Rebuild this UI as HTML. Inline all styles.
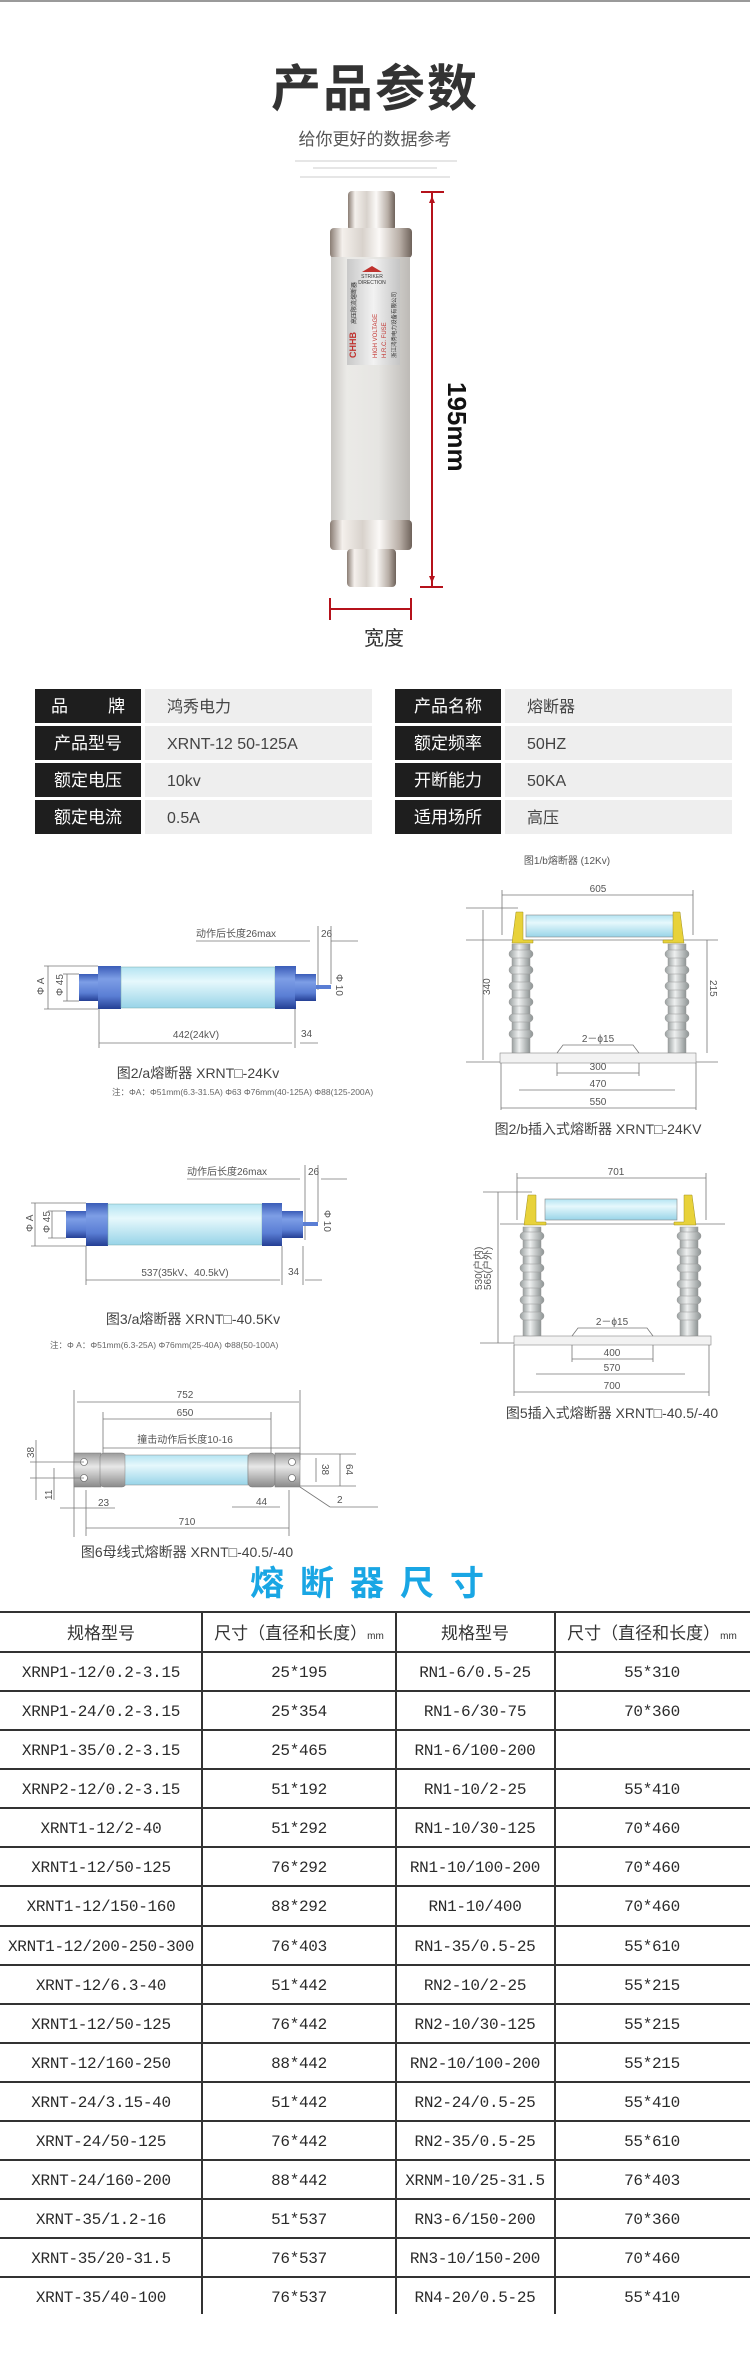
<!DOCTYPE html>
<html><head><meta charset="utf-8"><style>
html,body{margin:0;padding:0;background:#fff}
svg{display:block}
text{font-family:"Liberation Sans","Noto Sans CJK SC",sans-serif}
.m,.m text{font-family:"Liberation Mono","Noto Sans CJK SC",monospace;font-size:16px;fill:#2a2a2a;letter-spacing:-0.3px}
.d{font-size:10px;fill:#555}
.c{font-size:14px;fill:#444}
.ln{stroke:#777;stroke-width:0.8;fill:none}
</style></head><body>
<svg width="750" height="2370" viewBox="0 0 750 2370" xmlns="http://www.w3.org/2000/svg">
<defs>
<linearGradient id="met" x1="0" x2="1" y1="0" y2="0">
<stop offset="0" stop-color="#8a7d74"/><stop offset="0.15" stop-color="#f4f0ec"/><stop offset="0.4" stop-color="#d8d2cc"/><stop offset="0.6" stop-color="#fbf9f7"/><stop offset="0.85" stop-color="#b8aea6"/><stop offset="1" stop-color="#6e625a"/></linearGradient>
<linearGradient id="bod" x1="0" x2="1" y1="0" y2="0">
<stop offset="0" stop-color="#c9c7c3"/><stop offset="0.2" stop-color="#ebeae7"/><stop offset="0.6" stop-color="#e6e5e2"/><stop offset="1" stop-color="#bdbab6"/></linearGradient>
<linearGradient id="lab" x1="0" x2="1"><stop offset="0" stop-color="#c8c8c8"/><stop offset="0.5" stop-color="#f2f2f2"/><stop offset="1" stop-color="#c4c4c4"/></linearGradient>
<linearGradient id="blu" x1="0" x2="0" y1="0" y2="1"><stop offset="0" stop-color="#3a5cb8"/><stop offset="0.3" stop-color="#7d9ee6"/><stop offset="0.7" stop-color="#5a7ed4"/><stop offset="1" stop-color="#243f94"/></linearGradient>
<linearGradient id="tub" x1="0" x2="0" y1="0" y2="1"><stop offset="0" stop-color="#b4e4f2"/><stop offset="0.35" stop-color="#e6f8fc"/><stop offset="1" stop-color="#98d4e8"/></linearGradient>
<linearGradient id="gry" x1="0" x2="0" y1="0" y2="1"><stop offset="0" stop-color="#9a9a9a"/><stop offset="0.4" stop-color="#e8e8e8"/><stop offset="1" stop-color="#8a8a8a"/></linearGradient>
<linearGradient id="ins" x1="0" x2="1"><stop offset="0" stop-color="#9aa0a0"/><stop offset="0.4" stop-color="#eef0f0"/><stop offset="1" stop-color="#8e9494"/></linearGradient>
</defs>
<rect x="0" y="0" width="750" height="2" fill="#9a9a9a"/>
<text x="375" y="106" text-anchor="middle" font-size="50" font-weight="bold" fill="#333" letter-spacing="2">产品参数</text>
<text x="375" y="145" text-anchor="middle" font-size="17" fill="#555">给你更好的数据参考</text>
<g stroke="#ddd" stroke-width="1.5"><line x1="295" y1="161" x2="457" y2="161"/><line x1="313" y1="168" x2="437" y2="168"/><line x1="300" y1="177" x2="450" y2="177"/></g>
<rect x="348" y="191" width="47" height="40" rx="4" fill="url(#met)"/>
<rect x="330" y="228" width="82" height="30" rx="4" fill="url(#met)"/>
<rect x="331" y="257" width="79" height="266" fill="url(#bod)"/>
<rect x="330" y="520" width="82" height="30" rx="4" fill="url(#met)"/>
<rect x="347" y="549" width="49" height="38" rx="4" fill="url(#met)"/>
<rect x="347" y="259" width="53" height="106" fill="url(#lab)"/>
<polygon points="362,272 372,266 382,272" fill="#c0322e"/>
<text x="372" y="278" text-anchor="middle" font-size="5" fill="#333">STRIKER</text>
<text x="372" y="284" text-anchor="middle" font-size="5" fill="#333">DIRECTION</text>
<g transform="translate(356,358) rotate(-90)"><text font-size="9" font-weight="bold" fill="#c0322e">CHHB</text><text x="34" font-size="6" fill="#333">高压限流熔断器</text></g>
<g transform="translate(377,358) rotate(-90)"><text font-size="6" fill="#c0322e">HIGH VOLTAGE</text></g>
<g transform="translate(386,358) rotate(-90)"><text font-size="6" fill="#c0322e">H.R.C. FUSE</text></g>
<g transform="translate(396,358) rotate(-90)"><text font-size="5.5" fill="#333">浙江鸿秀电力设备有限公司</text></g>
<g stroke="#b5121b" stroke-width="2"><line x1="432" y1="192" x2="432" y2="586"/><line x1="421" y1="192" x2="444" y2="192"/><line x1="420" y1="587" x2="443" y2="587"/>
<line x1="330" y1="609" x2="410" y2="609"/><line x1="330" y1="598" x2="330" y2="620"/><line x1="411" y1="598" x2="411" y2="620"/></g>
<polygon points="432,196 429,203 435,203" fill="#b5121b"/><polygon points="432,583 429,576 435,576" fill="#b5121b"/>
<text transform="translate(448,382) rotate(90)" font-size="26" font-weight="bold" fill="#111">195mm</text>
<text x="384" y="645" text-anchor="middle" font-size="20" fill="#333">宽度</text>
<g font-size="17">
<g fill="#1e1e1e"><rect x="35" y="689" width="106" height="34"/><rect x="35" y="726" width="106" height="34"/><rect x="35" y="763" width="106" height="34"/><rect x="35" y="800" width="106" height="34"/>
<rect x="395" y="689" width="106" height="34"/><rect x="395" y="726" width="106" height="34"/><rect x="395" y="763" width="106" height="34"/><rect x="395" y="800" width="106" height="34"/></g>
<g fill="#eeeeee"><rect x="145" y="689" width="227" height="34"/><rect x="145" y="726" width="227" height="34"/><rect x="145" y="763" width="227" height="34"/><rect x="145" y="800" width="227" height="34"/>
<rect x="505" y="689" width="227" height="34"/><rect x="505" y="726" width="227" height="34"/><rect x="505" y="763" width="227" height="34"/><rect x="505" y="800" width="227" height="34"/></g>
<g fill="#fff"><text x="51" y="712">品</text><text x="108" y="712">牌</text><text x="88" y="749" text-anchor="middle">产品型号</text><text x="88" y="786" text-anchor="middle">额定电压</text><text x="88" y="823" text-anchor="middle">额定电流</text>
<text x="448" y="712" text-anchor="middle">产品名称</text><text x="448" y="749" text-anchor="middle">额定频率</text><text x="448" y="786" text-anchor="middle">开断能力</text><text x="448" y="823" text-anchor="middle">适用场所</text></g>
<g fill="#444" font-size="16"><text x="167" y="712">鸿秀电力</text><text x="167" y="749">XRNT-12 50-125A</text><text x="167" y="786">10kv</text><text x="167" y="823">0.5A</text>
<text x="527" y="712">熔断器</text><text x="527" y="749">50HZ</text><text x="527" y="786">50KA</text><text x="527" y="823">高压</text></g>
</g>
<g>
<text x="196" y="937" class="d">动作后长度26max</text><line x1="196" y1="941" x2="310" y2="941" class="ln"/><line x1="318" y1="926" x2="318" y2="990" class="ln"/><line x1="331" y1="926" x2="331" y2="984" class="ln"/><line x1="331" y1="941" x2="358" y2="941" class="ln"/><text x="321" y="937" class="d">26</text>
<rect x="79" y="974" width="20" height="27" fill="url(#blu)"/>
<rect x="98" y="966" width="23" height="43" fill="url(#blu)"/>
<rect x="121" y="967" width="154" height="41" fill="url(#tub)" stroke="#7aa" stroke-width="0.5"/>
<rect x="275" y="966" width="21" height="43" fill="url(#blu)"/>
<rect x="295" y="974" width="21" height="27" fill="url(#blu)"/>
<rect x="316" y="985" width="15" height="4" fill="#5a7ed4"/>
<line x1="48" y1="966" x2="48" y2="1009" class="ln"/><line x1="44" y1="966" x2="98" y2="966" class="ln"/><line x1="44" y1="1009" x2="98" y2="1009" class="ln"/>
<line x1="67" y1="974" x2="67" y2="1001" class="ln"/><line x1="63" y1="974" x2="79" y2="974" class="ln"/><line x1="63" y1="1001" x2="79" y2="1001" class="ln"/>
<text transform="translate(44,995) rotate(-90)" class="d">Φ A</text><text transform="translate(63,996) rotate(-90)" class="d">Φ 45</text><text transform="translate(336,974) rotate(90)" class="d">Φ 10</text>
<line x1="99" y1="1009" x2="99" y2="1048" class="ln"/><line x1="295" y1="1009" x2="295" y2="1048" class="ln"/><line x1="99" y1="1043" x2="292" y2="1043" class="ln"/><line x1="300" y1="1043" x2="318" y2="1043" class="ln"/>
<text x="196" y="1038" class="d" text-anchor="middle">442(24kV)</text><text x="301" y="1037" class="d">34</text>
<text x="198" y="1078" class="c" text-anchor="middle">图2/a熔断器 XRNT□-24Kv</text>
<text x="112" y="1095" font-size="8.5" fill="#666">注：ΦA：Φ51mm(6.3-31.5A)  Φ63  Φ76mm(40-125A)  Φ88(125-200A)</text>
</g>
<g>
<text x="567" y="864" font-size="10" fill="#555" text-anchor="middle">图1/b熔断器 (12Kv)</text>
<line x1="502" y1="895" x2="693" y2="895" class="ln"/><line x1="502" y1="890" x2="502" y2="935" class="ln"/><line x1="693" y1="890" x2="693" y2="935" class="ln"/><text x="598" y="892" class="d" text-anchor="middle">605</text>
<line x1="466" y1="908" x2="518" y2="908" class="ln"/><line x1="483" y1="910" x2="483" y2="1060" class="ln"/><text transform="translate(490,995) rotate(-90)" class="d">340</text>
<line x1="466" y1="940" x2="718" y2="940" class="ln"/><line x1="466" y1="1062" x2="718" y2="1062" class="ln"/>
<line x1="707" y1="940" x2="707" y2="1053" class="ln"/><text transform="translate(710,980) rotate(90)" class="d">215</text>
<rect x="526" y="915" width="149" height="22" fill="url(#tub)" stroke="#888" stroke-width="0.6"/>
<path d="M516,912 h7 v28 h10 v3 h-21 z M680,912 h-7 v28 h-10 v3 h21 z" fill="#e8d23a" stroke="#a09020" stroke-width="0.5"/>
<g fill="url(#ins)" stroke="#999" stroke-width="0.5">
<rect x="512" y="944" width="18" height="110"/><rect x="668" y="944" width="18" height="110"/></g>
<g fill="url(#ins)" stroke="#999" stroke-width="0.5">
<rect x="509" y="950" width="24" height="8" rx="4"/><rect x="509" y="966" width="24" height="8" rx="4"/><rect x="509" y="982" width="24" height="8" rx="4"/><rect x="509" y="998" width="24" height="8" rx="4"/><rect x="509" y="1014" width="24" height="8" rx="4"/><rect x="509" y="1030" width="24" height="8" rx="4"/>
<rect x="665" y="950" width="24" height="8" rx="4"/><rect x="665" y="966" width="24" height="8" rx="4"/><rect x="665" y="982" width="24" height="8" rx="4"/><rect x="665" y="998" width="24" height="8" rx="4"/><rect x="665" y="1014" width="24" height="8" rx="4"/><rect x="665" y="1030" width="24" height="8" rx="4"/></g>
<rect x="500" y="1053" width="196" height="10" fill="#f2f2f2" stroke="#888" stroke-width="0.6"/>
<path d="M557,1053 L563,1045 H633 L639,1053" class="ln"/><text x="598" y="1042" class="d" text-anchor="middle">2－ϕ15</text>
<line x1="557" y1="1063" x2="557" y2="1076" class="ln"/><line x1="639" y1="1063" x2="639" y2="1076" class="ln"/><line x1="557" y1="1073" x2="639" y2="1073" class="ln"/><text x="598" y="1070" class="d" text-anchor="middle">300</text>
<line x1="519" y1="1090" x2="675" y2="1090" class="ln"/><text x="598" y="1087" class="d" text-anchor="middle">470</text>
<line x1="501" y1="1063" x2="501" y2="1110" class="ln"/><line x1="696" y1="1063" x2="696" y2="1110" class="ln"/><line x1="501" y1="1108" x2="696" y2="1108" class="ln"/><text x="598" y="1105" class="d" text-anchor="middle">550</text>
<text x="598" y="1134" class="c" font-size="13" text-anchor="middle">图2/b插入式熔断器 XRNT□-24KV</text>
</g>
<g>
<text x="187" y="1175" class="d">动作后长度26max</text><line x1="187" y1="1179" x2="300" y2="1179" class="ln"/><line x1="305" y1="1165" x2="305" y2="1240" class="ln"/><line x1="318" y1="1165" x2="318" y2="1222" class="ln"/><line x1="321" y1="1179" x2="347" y2="1179" class="ln"/><text x="308" y="1175" class="d">26</text>
<rect x="66" y="1211" width="21" height="27" fill="url(#blu)"/>
<rect x="86" y="1203" width="22" height="43" fill="url(#blu)"/>
<rect x="108" y="1204" width="154" height="41" fill="url(#tub)" stroke="#7aa" stroke-width="0.5"/>
<rect x="262" y="1203" width="20" height="43" fill="url(#blu)"/>
<rect x="282" y="1211" width="21" height="27" fill="url(#blu)"/>
<rect x="303" y="1222" width="15" height="4" fill="#5a7ed4"/>
<line x1="35" y1="1203" x2="35" y2="1246" class="ln"/><line x1="31" y1="1203" x2="86" y2="1203" class="ln"/><line x1="31" y1="1246" x2="86" y2="1246" class="ln"/>
<line x1="52" y1="1211" x2="52" y2="1238" class="ln"/><line x1="48" y1="1211" x2="66" y2="1211" class="ln"/><line x1="48" y1="1238" x2="66" y2="1238" class="ln"/>
<text transform="translate(33,1232) rotate(-90)" class="d">Φ A</text><text transform="translate(50,1233) rotate(-90)" class="d">Φ 45</text><text transform="translate(324,1210) rotate(90)" class="d">Φ 10</text>
<line x1="86" y1="1246" x2="86" y2="1285" class="ln"/><line x1="282" y1="1246" x2="282" y2="1285" class="ln"/><line x1="303" y1="1246" x2="303" y2="1285" class="ln"/><line x1="86" y1="1280" x2="280" y2="1280" class="ln"/><line x1="305" y1="1280" x2="322" y2="1280" class="ln"/>
<text x="185" y="1276" class="d" text-anchor="middle">537(35kV、40.5kV)</text><text x="288" y="1275" class="d">34</text>
<text x="193" y="1324" class="c" text-anchor="middle">图3/a熔断器 XRNT□-40.5Kv</text>
<text x="50" y="1348" font-size="8.5" fill="#666">注：Φ A：Φ51mm(6.3-25A)  Φ76mm(25-40A)  Φ88(50-100A)</text>
</g>
<g>
<line x1="517" y1="1178" x2="706" y2="1178" class="ln"/><line x1="517" y1="1173" x2="517" y2="1220" class="ln"/><line x1="706" y1="1173" x2="706" y2="1220" class="ln"/><text x="616" y="1175" class="d" text-anchor="middle">701</text>
<line x1="483" y1="1192" x2="532" y2="1192" class="ln"/><line x1="498" y1="1192" x2="498" y2="1343" class="ln"/>
<text transform="translate(482,1290) rotate(-90)" class="d" font-size="8.5">530(户内)</text><text transform="translate(491,1290) rotate(-90)" class="d" font-size="8.5">565(户外)</text>
<line x1="500" y1="1224" x2="725" y2="1224" class="ln"/><line x1="480" y1="1343" x2="711" y2="1343" class="ln"/>
<rect x="545" y="1199" width="132" height="21" fill="url(#tub)" stroke="#888" stroke-width="0.6"/>
<path d="M528,1195 h8 v27 h10 v3 h-22 z M692,1195 h-8 v27 h-10 v3 h22 z" fill="#e8d23a" stroke="#a09020" stroke-width="0.5"/>
<g fill="url(#ins)" stroke="#999" stroke-width="0.5"><rect x="523" y="1227" width="18" height="110"/><rect x="680" y="1227" width="18" height="110"/></g>
<g fill="url(#ins)" stroke="#999" stroke-width="0.5">
<rect x="520" y="1232" width="24" height="8" rx="4"/><rect x="520" y="1248" width="24" height="8" rx="4"/><rect x="520" y="1264" width="24" height="8" rx="4"/><rect x="520" y="1280" width="24" height="8" rx="4"/><rect x="520" y="1296" width="24" height="8" rx="4"/><rect x="520" y="1312" width="24" height="8" rx="4"/>
<rect x="677" y="1232" width="24" height="8" rx="4"/><rect x="677" y="1248" width="24" height="8" rx="4"/><rect x="677" y="1264" width="24" height="8" rx="4"/><rect x="677" y="1280" width="24" height="8" rx="4"/><rect x="677" y="1296" width="24" height="8" rx="4"/><rect x="677" y="1312" width="24" height="8" rx="4"/></g>
<rect x="514" y="1336" width="197" height="9" fill="#f2f2f2" stroke="#888" stroke-width="0.6"/>
<path d="M572,1336 L578,1328 H647 L653,1336" class="ln"/><text x="612" y="1325" class="d" text-anchor="middle">2－ϕ15</text>
<line x1="572" y1="1345" x2="572" y2="1362" class="ln"/><line x1="653" y1="1345" x2="653" y2="1362" class="ln"/><line x1="572" y1="1359" x2="653" y2="1359" class="ln"/><text x="612" y="1356" class="d" text-anchor="middle">400</text>
<line x1="536" y1="1374" x2="685" y2="1374" class="ln"/><text x="612" y="1371" class="d" text-anchor="middle">570</text>
<line x1="514" y1="1345" x2="514" y2="1396" class="ln"/><line x1="709" y1="1345" x2="709" y2="1396" class="ln"/><line x1="514" y1="1392" x2="709" y2="1392" class="ln"/><text x="612" y="1389" class="d" text-anchor="middle">700</text>
<text x="612" y="1418" class="c" font-size="13" text-anchor="middle">图5插入式熔断器 XRNT□-40.5/-40</text>
</g>
<g>
<line x1="74" y1="1390" x2="74" y2="1537" class="ln"/><line x1="300" y1="1390" x2="300" y2="1460" class="ln"/>
<line x1="77" y1="1402" x2="299" y2="1402" class="ln"/><text x="185" y="1398" class="d" text-anchor="middle">752</text>
<line x1="103" y1="1419" x2="271" y2="1419" class="ln"/><line x1="103" y1="1412" x2="103" y2="1453" class="ln"/><line x1="271" y1="1412" x2="271" y2="1453" class="ln"/><text x="185" y="1416" class="d" text-anchor="middle">650</text>
<text x="185" y="1443" class="d" text-anchor="middle">撞击动作后长度10-16</text><line x1="103" y1="1448" x2="300" y2="1448" class="ln"/>
<rect x="74" y="1453" width="27" height="34" fill="url(#gry)" stroke="#777" stroke-width="0.5"/>
<rect x="100" y="1453" width="26" height="34" rx="4" fill="url(#gry)" stroke="#777" stroke-width="0.5"/>
<rect x="125" y="1455" width="123" height="30" fill="url(#tub)" stroke="#888" stroke-width="0.5"/>
<rect x="248" y="1453" width="27" height="34" rx="4" fill="url(#gry)" stroke="#777" stroke-width="0.5"/>
<rect x="275" y="1453" width="25" height="34" fill="url(#gry)" stroke="#777" stroke-width="0.5"/>
<g fill="#fff" stroke="#555" stroke-width="0.6"><circle cx="84" cy="1462" r="3.5"/><circle cx="84" cy="1478" r="3.5"/><circle cx="292" cy="1462" r="3.5"/><circle cx="292" cy="1478" r="3.5"/></g>
<line x1="300" y1="1454" x2="356" y2="1454" class="ln"/><line x1="300" y1="1486" x2="356" y2="1486" class="ln"/><line x1="316" y1="1458" x2="316" y2="1482" class="ln"/><line x1="340" y1="1454" x2="340" y2="1486" class="ln"/>
<text transform="translate(322,1464) rotate(90)" class="d">38</text><text transform="translate(346,1464) rotate(90)" class="d">64</text>
<line x1="300" y1="1487" x2="330" y2="1507" class="ln"/><line x1="330" y1="1507" x2="378" y2="1507" class="ln"/><text x="337" y="1503" class="d">2</text>
<line x1="30" y1="1462" x2="84" y2="1462" class="ln"/><line x1="30" y1="1478" x2="84" y2="1478" class="ln"/><line x1="36" y1="1440" x2="36" y2="1500" class="ln"/><line x1="54" y1="1468" x2="54" y2="1500" class="ln"/>
<text transform="translate(34,1458) rotate(-90)" class="d">38</text><text transform="translate(52,1500) rotate(-90)" class="d">11</text>
<line x1="60" y1="1508" x2="115" y2="1508" class="ln"/><text x="98" y="1506" class="d">23</text>
<line x1="232" y1="1507" x2="280" y2="1507" class="ln"/><text x="256" y="1505" class="d">44</text>
<line x1="86" y1="1490" x2="86" y2="1536" class="ln"/><line x1="289" y1="1490" x2="289" y2="1536" class="ln"/><line x1="86" y1="1528" x2="289" y2="1528" class="ln"/><text x="187" y="1525" class="d" text-anchor="middle">710</text>
<text x="187" y="1557" class="c" text-anchor="middle">图6母线式熔断器 XRNT□-40.5/-40</text>
</g>
<text x="375" y="1595" text-anchor="middle" font-size="34" font-weight="bold" fill="#19a6e4" letter-spacing="16">熔断器尺寸</text>
<g stroke="#333" stroke-width="2">
<line x1="0" y1="1612" x2="750" y2="1612"/>
<line x1="0" y1="1652" x2="750" y2="1652"/><line x1="0" y1="1691" x2="750" y2="1691"/><line x1="0" y1="1730" x2="750" y2="1730"/><line x1="0" y1="1769" x2="750" y2="1769"/><line x1="0" y1="1808" x2="750" y2="1808"/><line x1="0" y1="1847" x2="750" y2="1847"/><line x1="0" y1="1886" x2="750" y2="1886"/><line x1="0" y1="1926" x2="750" y2="1926"/><line x1="0" y1="1965" x2="750" y2="1965"/><line x1="0" y1="2004" x2="750" y2="2004"/><line x1="0" y1="2043" x2="750" y2="2043"/><line x1="0" y1="2082" x2="750" y2="2082"/><line x1="0" y1="2121" x2="750" y2="2121"/><line x1="0" y1="2160" x2="750" y2="2160"/><line x1="0" y1="2199" x2="750" y2="2199"/><line x1="0" y1="2238" x2="750" y2="2238"/><line x1="0" y1="2277" x2="750" y2="2277"/>
<line x1="202" y1="1612" x2="202" y2="2314"/><line x1="396" y1="1612" x2="396" y2="2314"/><line x1="555" y1="1612" x2="555" y2="2314"/>
</g>
<g font-size="17" fill="#333"><text x="101" y="1639" text-anchor="middle">规格型号</text><text x="299" y="1639" text-anchor="middle">尺寸（直径和长度）<tspan font-size="10">mm</tspan></text><text x="475" y="1639" text-anchor="middle">规格型号</text><text x="652" y="1639" text-anchor="middle">尺寸（直径和长度）<tspan font-size="10">mm</tspan></text></g>
<g class="m" text-anchor="middle">
<text x="101" y="1677">XRNP1-12/0.2-3.15</text><text x="299" y="1677">25*195</text><text x="475" y="1677">RN1-6/0.5-25</text><text x="652" y="1677">55*310</text>
<text x="101" y="1716">XRNP1-24/0.2-3.15</text><text x="299" y="1716">25*354</text><text x="475" y="1716">RN1-6/30-75</text><text x="652" y="1716">70*360</text>
<text x="101" y="1755">XRNP1-35/0.2-3.15</text><text x="299" y="1755">25*465</text><text x="475" y="1755">RN1-6/100-200</text>
<text x="101" y="1794">XRNP2-12/0.2-3.15</text><text x="299" y="1794">51*192</text><text x="475" y="1794">RN1-10/2-25</text><text x="652" y="1794">55*410</text>
<text x="101" y="1833">XRNT1-12/2-40</text><text x="299" y="1833">51*292</text><text x="475" y="1833">RN1-10/30-125</text><text x="652" y="1833">70*460</text>
<text x="101" y="1872">XRNT1-12/50-125</text><text x="299" y="1872">76*292</text><text x="475" y="1872">RN1-10/100-200</text><text x="652" y="1872">70*460</text>
<text x="101" y="1911">XRNT1-12/150-160</text><text x="299" y="1911">88*292</text><text x="475" y="1911">RN1-10/400</text><text x="652" y="1911">70*460</text>
<text x="101" y="1951">XRNT1-12/200-250-300</text><text x="299" y="1951">76*403</text><text x="475" y="1951">RN1-35/0.5-25</text><text x="652" y="1951">55*610</text>
<text x="101" y="1990">XRNT-12/6.3-40</text><text x="299" y="1990">51*442</text><text x="475" y="1990">RN2-10/2-25</text><text x="652" y="1990">55*215</text>
<text x="101" y="2029">XRNT1-12/50-125</text><text x="299" y="2029">76*442</text><text x="475" y="2029">RN2-10/30-125</text><text x="652" y="2029">55*215</text>
<text x="101" y="2068">XRNT-12/160-250</text><text x="299" y="2068">88*442</text><text x="475" y="2068">RN2-10/100-200</text><text x="652" y="2068">55*215</text>
<text x="101" y="2107">XRNT-24/3.15-40</text><text x="299" y="2107">51*442</text><text x="475" y="2107">RN2-24/0.5-25</text><text x="652" y="2107">55*410</text>
<text x="101" y="2146">XRNT-24/50-125</text><text x="299" y="2146">76*442</text><text x="475" y="2146">RN2-35/0.5-25</text><text x="652" y="2146">55*610</text>
<text x="101" y="2185">XRNT-24/160-200</text><text x="299" y="2185">88*442</text><text x="475" y="2185">XRNM-10/25-31.5</text><text x="652" y="2185">76*403</text>
<text x="101" y="2224">XRNT-35/1.2-16</text><text x="299" y="2224">51*537</text><text x="475" y="2224">RN3-6/150-200</text><text x="652" y="2224">70*360</text>
<text x="101" y="2263">XRNT-35/20-31.5</text><text x="299" y="2263">76*537</text><text x="475" y="2263">RN3-10/150-200</text><text x="652" y="2263">70*460</text>
<text x="101" y="2302">XRNT-35/40-100</text><text x="299" y="2302">76*537</text><text x="475" y="2302">RN4-20/0.5-25</text><text x="652" y="2302">55*410</text>
</g>
</svg>
</body></html>
